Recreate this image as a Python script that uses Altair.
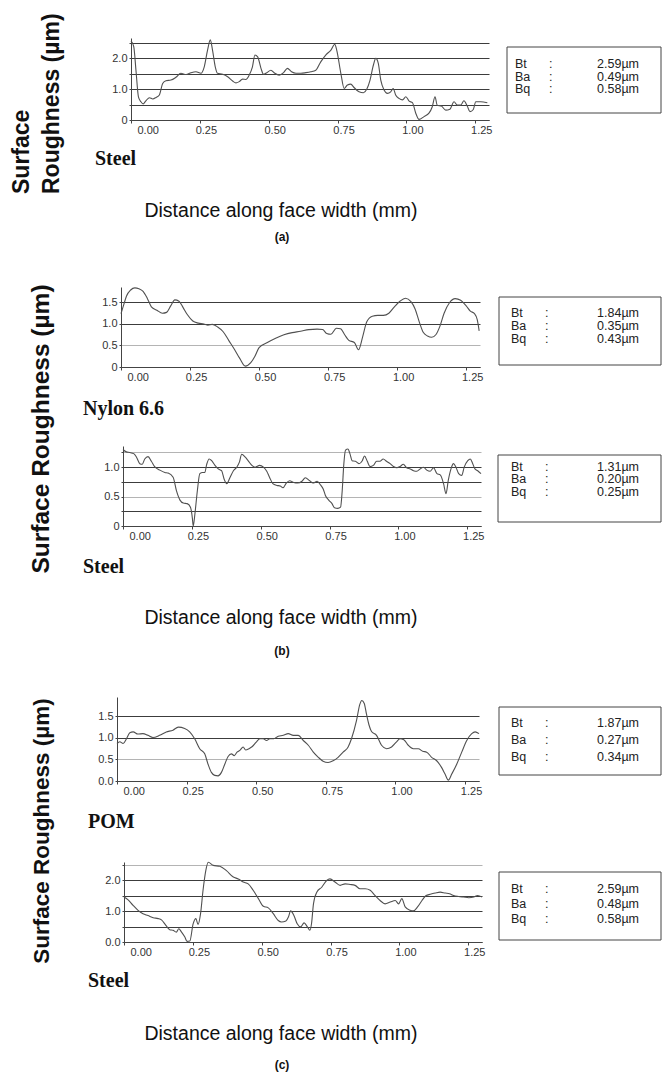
import altair as alt
import pandas as pd

# Surface profiles: (distance along face width in mm, roughness in µm)
profile_a_steel = [
    (0.000, 2.56), (0.010, 2.37), (0.018, 1.61), (0.027, 0.75), (0.036, 0.59), (0.044, 0.52),
    (0.054, 0.62), (0.067, 0.72), (0.079, 0.68), (0.091, 0.73), (0.103, 0.81), (0.115, 1.18),
    (0.127, 1.27), (0.145, 1.29), (0.163, 1.38), (0.181, 1.51), (0.200, 1.47), (0.218, 1.53),
    (0.236, 1.56), (0.254, 1.51), (0.266, 1.72), (0.278, 2.26), (0.288, 2.59), (0.296, 2.26),
    (0.306, 1.72), (0.314, 1.51), (0.333, 1.48), (0.351, 1.40), (0.369, 1.26), (0.381, 1.20),
    (0.393, 1.24), (0.405, 1.32), (0.417, 1.31), (0.429, 1.45), (0.441, 1.72), (0.450, 2.10),
    (0.460, 2.04), (0.472, 1.67), (0.481, 1.48), (0.493, 1.53), (0.508, 1.61), (0.522, 1.51),
    (0.538, 1.45), (0.554, 1.53), (0.568, 1.67), (0.583, 1.56), (0.599, 1.51), (0.617, 1.51),
    (0.635, 1.53), (0.653, 1.56), (0.671, 1.61), (0.689, 1.88), (0.707, 2.10), (0.726, 2.26),
    (0.740, 2.45), (0.747, 2.26), (0.762, 1.51), (0.774, 1.02), (0.786, 1.13), (0.798, 1.16),
    (0.810, 1.05), (0.828, 0.91), (0.844, 0.88), (0.856, 0.99), (0.868, 1.29), (0.880, 1.77),
    (0.889, 1.99), (0.898, 1.83), (0.907, 1.29), (0.919, 0.97), (0.931, 0.86), (0.943, 0.91),
    (0.952, 1.02), (0.961, 0.81), (0.973, 0.70), (0.986, 0.65), (0.998, 0.75), (1.010, 0.61),
    (1.022, 0.56), (1.034, 0.22), (1.046, 0.02), (1.064, 0.11), (1.082, 0.22), (1.094, 0.43),
    (1.104, 0.75), (1.112, 0.48), (1.127, 0.45), (1.143, 0.32), (1.158, 0.35), (1.173, 0.59),
    (1.185, 0.48), (1.197, 0.48), (1.209, 0.62), (1.221, 0.45), (1.231, 0.27), (1.243, 0.34),
    (1.252, 0.59), (1.270, 0.59), (1.294, 0.56),
]

profile_b_nylon = [
    (0.000, 1.24), (0.010, 1.45), (0.020, 1.65), (0.035, 1.79), (0.050, 1.84), (0.065, 1.82),
    (0.080, 1.76), (0.095, 1.60), (0.110, 1.40), (0.130, 1.32), (0.150, 1.25), (0.165, 1.27),
    (0.180, 1.42), (0.195, 1.56), (0.210, 1.53), (0.225, 1.38), (0.240, 1.22), (0.260, 1.07),
    (0.280, 1.02), (0.300, 1.00), (0.315, 0.97), (0.330, 0.99), (0.350, 0.93), (0.370, 0.82),
    (0.390, 0.62), (0.410, 0.42), (0.430, 0.20), (0.450, 0.02), (0.470, 0.10), (0.485, 0.25),
    (0.500, 0.45), (0.530, 0.57), (0.560, 0.67), (0.590, 0.75), (0.620, 0.80), (0.650, 0.83),
    (0.680, 0.87), (0.710, 0.88), (0.730, 0.87), (0.745, 0.78), (0.760, 0.76), (0.780, 0.90),
    (0.795, 0.89), (0.810, 0.75), (0.825, 0.62), (0.845, 0.57), (0.860, 0.40), (0.875, 0.70),
    (0.890, 1.05), (0.910, 1.18), (0.930, 1.20), (0.950, 1.20), (0.970, 1.25), (0.990, 1.40),
    (1.010, 1.53), (1.030, 1.60), (1.050, 1.52), (1.065, 1.35), (1.080, 1.05), (1.095, 0.80),
    (1.110, 0.72), (1.125, 0.69), (1.140, 0.75), (1.155, 0.95), (1.170, 1.25), (1.190, 1.50),
    (1.210, 1.59), (1.230, 1.55), (1.250, 1.42), (1.265, 1.30), (1.280, 1.24), (1.290, 1.10),
    (1.297, 0.84),
]

profile_b_steel = [
    (0.000, 1.30), (0.012, 1.26), (0.024, 1.25), (0.039, 1.23), (0.049, 1.17), (0.061, 1.06),
    (0.070, 1.05), (0.079, 1.14), (0.091, 1.18), (0.103, 1.10), (0.115, 1.01), (0.134, 0.95),
    (0.152, 0.91), (0.164, 0.90), (0.182, 0.83), (0.194, 0.60), (0.207, 0.44), (0.219, 0.39),
    (0.233, 0.38), (0.245, 0.32), (0.252, 0.13), (0.255, 0.00), (0.261, 0.20), (0.270, 0.60),
    (0.279, 0.89), (0.289, 0.91), (0.297, 0.91), (0.304, 1.05), (0.313, 1.14), (0.322, 1.11),
    (0.334, 1.03), (0.346, 0.97), (0.358, 0.94), (0.367, 0.80), (0.377, 0.72), (0.389, 0.83),
    (0.401, 0.94), (0.413, 1.00), (0.423, 1.09), (0.431, 1.22), (0.444, 1.17), (0.456, 1.10),
    (0.468, 1.03), (0.480, 1.00), (0.496, 1.03), (0.510, 1.00), (0.522, 0.93), (0.532, 0.83),
    (0.544, 0.72), (0.559, 0.69), (0.571, 0.68), (0.581, 0.65), (0.593, 0.73), (0.605, 0.77),
    (0.620, 0.74), (0.634, 0.73), (0.650, 0.76), (0.662, 0.82), (0.678, 0.77), (0.690, 0.73),
    (0.705, 0.76), (0.717, 0.70), (0.727, 0.63), (0.735, 0.52), (0.747, 0.44), (0.759, 0.38),
    (0.768, 0.31), (0.780, 0.30), (0.790, 0.32), (0.796, 0.60), (0.802, 1.06), (0.808, 1.29),
    (0.817, 1.31), (0.824, 1.23), (0.832, 1.11), (0.844, 1.10), (0.857, 1.06), (0.869, 1.11),
    (0.877, 1.19), (0.887, 1.10), (0.897, 1.01), (0.909, 1.03), (0.921, 1.10), (0.933, 1.10),
    (0.945, 1.14), (0.957, 1.10), (0.970, 1.06), (0.982, 1.01), (0.994, 0.99), (1.006, 1.01),
    (1.018, 1.05), (1.030, 0.99), (1.043, 0.97), (1.055, 0.94), (1.067, 0.93), (1.079, 0.97),
    (1.091, 1.00), (1.103, 0.95), (1.115, 0.93), (1.128, 0.99), (1.140, 0.89), (1.152, 0.87),
    (1.164, 0.72), (1.173, 0.55), (1.181, 0.77), (1.191, 0.97), (1.200, 1.06), (1.209, 1.00),
    (1.219, 0.89), (1.230, 0.86), (1.239, 1.00), (1.252, 1.11), (1.261, 1.14), (1.270, 1.06),
    (1.278, 0.97), (1.288, 0.94), (1.300, 0.89),
]

profile_c_pom = [
    (0.000, 0.87), (0.010, 0.91), (0.022, 0.87), (0.034, 0.98), (0.046, 1.12), (0.058, 1.14),
    (0.075, 1.09), (0.093, 1.10), (0.111, 1.06), (0.129, 1.01), (0.153, 1.06), (0.177, 1.14),
    (0.201, 1.18), (0.220, 1.25), (0.243, 1.22), (0.261, 1.14), (0.279, 0.98), (0.297, 0.75),
    (0.315, 0.63), (0.327, 0.39), (0.339, 0.20), (0.351, 0.13), (0.363, 0.12), (0.375, 0.20),
    (0.387, 0.39), (0.399, 0.57), (0.411, 0.63), (0.421, 0.59), (0.431, 0.67), (0.441, 0.71),
    (0.453, 0.79), (0.462, 0.72), (0.474, 0.75), (0.486, 0.80), (0.501, 0.91), (0.513, 0.98),
    (0.525, 0.98), (0.537, 0.94), (0.549, 0.98), (0.563, 0.98), (0.579, 1.04), (0.597, 1.06),
    (0.615, 1.10), (0.633, 1.06), (0.651, 1.06), (0.669, 0.94), (0.687, 0.83), (0.705, 0.67),
    (0.723, 0.55), (0.740, 0.46), (0.758, 0.43), (0.776, 0.47), (0.794, 0.55), (0.812, 0.67),
    (0.830, 0.79), (0.842, 0.98), (0.860, 1.40), (0.872, 1.78), (0.879, 1.87), (0.888, 1.80),
    (0.896, 1.55), (0.905, 1.30), (0.914, 1.15), (0.932, 1.06), (0.950, 0.83), (0.968, 0.75),
    (0.986, 0.79), (1.004, 0.91), (1.016, 0.98), (1.030, 0.96), (1.046, 0.83), (1.064, 0.75),
    (1.082, 0.75), (1.098, 0.69), (1.112, 0.67), (1.130, 0.55), (1.148, 0.47), (1.166, 0.31),
    (1.178, 0.16), (1.190, 0.02), (1.202, 0.16), (1.220, 0.39), (1.238, 0.67), (1.256, 0.94),
    (1.274, 1.10), (1.286, 1.14), (1.300, 1.10),
]

profile_c_steel = [
    (0.000, 1.46), (0.015, 1.37), (0.033, 1.19), (0.051, 1.03), (0.069, 0.92), (0.087, 0.86),
    (0.106, 0.79), (0.124, 0.76), (0.136, 0.72), (0.152, 0.54), (0.166, 0.40), (0.178, 0.38),
    (0.190, 0.32), (0.199, 0.43), (0.209, 0.32), (0.221, 0.16), (0.229, 0.02), (0.239, 0.03),
    (0.251, 0.59), (0.261, 0.76), (0.269, 0.57), (0.278, 0.92), (0.287, 1.68), (0.297, 2.32),
    (0.306, 2.59), (0.324, 2.49), (0.348, 2.46), (0.372, 2.32), (0.397, 2.11), (0.415, 2.05),
    (0.433, 1.95), (0.451, 1.89), (0.469, 1.68), (0.488, 1.41), (0.506, 1.16), (0.524, 1.11),
    (0.542, 0.92), (0.560, 0.70), (0.572, 0.65), (0.588, 0.68), (0.597, 0.81), (0.605, 1.01),
    (0.617, 0.86), (0.629, 0.59), (0.641, 0.49), (0.654, 0.62), (0.666, 0.49), (0.675, 0.38),
    (0.681, 0.60), (0.688, 1.24), (0.700, 1.62), (0.718, 1.78), (0.736, 2.00), (0.748, 2.05),
    (0.766, 1.95), (0.785, 1.84), (0.803, 1.89), (0.821, 1.87), (0.839, 1.84), (0.857, 1.73),
    (0.876, 1.73), (0.894, 1.68), (0.912, 1.51), (0.930, 1.35), (0.948, 1.24), (0.967, 1.30),
    (0.985, 1.35), (0.997, 1.24), (1.009, 1.41), (1.021, 1.14), (1.039, 1.03), (1.051, 1.01),
    (1.066, 1.14), (1.082, 1.35), (1.097, 1.51), (1.112, 1.55), (1.130, 1.59), (1.148, 1.62),
    (1.167, 1.59), (1.182, 1.57), (1.197, 1.51), (1.215, 1.48), (1.233, 1.46), (1.252, 1.44),
    (1.270, 1.46), (1.284, 1.51), (1.300, 1.46),
]

# Roughness parameters printed beside each profile (µm)
stat_names = ["Bt", "Ba", "Bq"]
stats_a_steel = [2.59, 0.49, 0.58]
stats_b_nylon = [1.84, 0.35, 0.43]
stats_b_steel = [1.31, 0.20, 0.25]
stats_c_pom = [1.87, 0.27, 0.34]
stats_c_steel = [2.59, 0.48, 0.58]

distance_ticks = [0, 0.25, 0.5, 0.75, 1.0, 1.25]

W, H = 664, 1073
SANS = "Liberation Sans"
SERIF = "Liberation Serif"
INK = "#111111"
CURVE = "#505050"
DARK_GRID = "#3c3c3c"
LIGHT_GRID = "#b4b4b4"
ONE = pd.DataFrame({"k": [0]})


def profile(points, x_range, y_range, y_max, grid_vals, y_labels, light_grid=()):
    df = pd.DataFrame(points, columns=["distance", "roughness"])
    label_expr = "".join(f"datum.value == {v} ? '{s}' : " for v, s in y_labels) + "''"
    if light_grid:
        test = " || ".join(f"datum.value == {v}" for v in light_grid)
        grid_color = {"condition": {"test": test, "value": LIGHT_GRID}, "value": DARK_GRID}
    else:
        grid_color = DARK_GRID
    x = alt.X(
        "distance:Q",
        scale=alt.Scale(domain=[0, 1.3], range=list(x_range), nice=False, zero=False),
        axis=alt.Axis(
            values=distance_ticks, format=".2f", title=None, orient="bottom",
            offset=y_range[0] - H, grid=False, labelPadding=1, labelOffset=6,
            tickSize=3, tickColor="#444", domainColor="#444",
            labelFont=SANS, labelFontSize=11, labelColor="#333",
        ),
    )
    y = alt.Y(
        "roughness:Q",
        scale=alt.Scale(domain=[0, y_max], range=list(y_range), nice=False, zero=False),
        axis=alt.Axis(
            values=grid_vals, labelExpr=label_expr, title=None, orient="left",
            offset=-x_range[0], grid=True, gridColor=grid_color, gridWidth=1,
            tickSize=2, tickColor="#444", domainColor="#444", labelPadding=2,
            labelFont=SANS, labelFontSize=11, labelColor="#333",
        ),
    )
    return alt.Chart(df).mark_line(color=CURVE, strokeWidth=1.1, interpolate="monotone").encode(x=x, y=y)


def text(s, x, y, font=SANS, size=12, weight="normal", align="left", baseline="middle",
         angle=0, color=INK):
    return alt.Chart(ONE).mark_text(
        text=s, font=font, fontSize=size, fontWeight=weight, align=align,
        baseline=baseline, angle=angle, color=color,
    ).encode(x=alt.value(x), y=alt.value(y))


def stats_box(box, values, rows, size, name_x):
    x0, y0, x1, y1 = box
    layers = [
        alt.Chart(ONE).mark_rect(fill="white", stroke="#444", strokeWidth=1).encode(
            x=alt.value(x0), x2=alt.value(x1), y=alt.value(y0), y2=alt.value(y1))
    ]
    for name, v, ry in zip(stat_names, values, rows):
        layers.append(text(name, name_x, ry, size=size, color="#222"))
        layers.append(text(":", name_x + 34, ry, size=size, color="#222"))
        layers.append(text(f"{v:.2f}\u00b5m", 639, ry, size=size, align="right", color="#222"))
    return layers


layers = []

# (a) steel
layers.append(profile(profile_a_steel, (131, 489), (120, 38), 2.65,
                      [0, 0.5, 1.0, 1.5, 2.0, 2.5], [(0, "0"), (1, "1.0"), (2, "2.0")]))
layers += stats_box((507, 47, 661, 113), stats_a_steel, [64, 77, 89], 12.5, 515)
layers.append(text("Surface", 22, 194, size=23, weight="bold", angle=270))
layers.append(text("Roughness (\u00b5m)", 52, 194, size=23, weight="bold", angle=270))
layers.append(text("Steel", 95, 165, font=SERIF, size=20, weight="bold", baseline="alphabetic"))
layers.append(text("Distance along face width (mm)", 281, 211, size=19.5, align="center"))
layers.append(text("(a)", 282, 237, size=12, weight="bold", align="center"))

# (b) nylon 6.6 against steel
layers.append(profile(profile_b_nylon, (121, 480), (367, 287), 1.86,
                      [0, 0.5, 1.0, 1.5], [(0, "0"), (0.5, "0.5"), (1, "1.0"), (1.5, "1.5")],
                      light_grid=(0.5,)))
layers += stats_box((499, 297, 661, 365), stats_b_nylon, [313, 326, 339], 12.5, 511)
layers.append(text("Nylon 6.6", 83, 415, font=SERIF, size=20, weight="bold", baseline="alphabetic"))
layers.append(profile(profile_b_steel, (123, 481), (526, 446), 1.36,
                      [0, 0.25, 0.5, 0.75, 1.0, 1.25], [(0, "0"), (0.5, "0.5"), (1, "1.0")],
                      light_grid=(0.5, 1.25)))
layers += stats_box((498, 455, 661, 522), stats_b_steel, [467, 479, 492], 12.5, 511)
layers.append(text("Steel", 83, 573, font=SERIF, size=20, weight="bold", baseline="alphabetic"))
layers.append(text("Surface Roughness (\u00b5m)", 42, 429, size=24.5, weight="bold",
                   angle=270, align="center"))
layers.append(text("Distance along face width (mm)", 281, 618, size=19.5, align="center"))
layers.append(text("(b)", 282, 651, size=12, weight="bold", align="center"))

# (c) POM against steel
layers.append(profile(profile_c_pom, (117, 479), (781, 697), 1.95,
                      [0, 0.5, 1.0, 1.5], [(0, "0.0"), (0.5, "0.5"), (1, "1.0"), (1.5, "1.5")],
                      light_grid=(0.5,)))
layers += stats_box((499, 707, 661, 775), stats_c_pom, [723, 740, 757], 12.5, 511)
layers.append(text("POM", 88, 828, font=SERIF, size=20, weight="bold", baseline="alphabetic"))
layers.append(profile(profile_c_steel, (124, 482), (942, 862), 2.6,
                      [0, 0.5, 1.0, 1.5, 2.0, 2.5], [(0, "0.0"), (1, "1.0"), (2, "2.0")],
                      light_grid=(2.5,)))
layers += stats_box((499, 872, 661, 940), stats_c_steel, [889, 904, 919], 12.5, 511)
layers.append(text("Steel", 88, 987, font=SERIF, size=20, weight="bold", baseline="alphabetic"))
layers.append(text("Surface Roughness (\u00b5m)", 42, 831, size=22.5, weight="bold",
                   angle=270, align="center"))
layers.append(text("Distance along face width (mm)", 281, 1034, size=19.5, align="center"))
layers.append(text("(c)", 282, 1065, size=12, weight="bold", align="center"))

chart = (
    alt.layer(*layers)
    .resolve_scale(x="independent", y="independent")
    .properties(width=W, height=H, autosize=alt.AutoSizeParams(type="none"), padding=0,
                background="white")
    .configure_view(stroke=None)
)

chart.save("out.html", embed_options={"renderer": "svg", "actions": False})
